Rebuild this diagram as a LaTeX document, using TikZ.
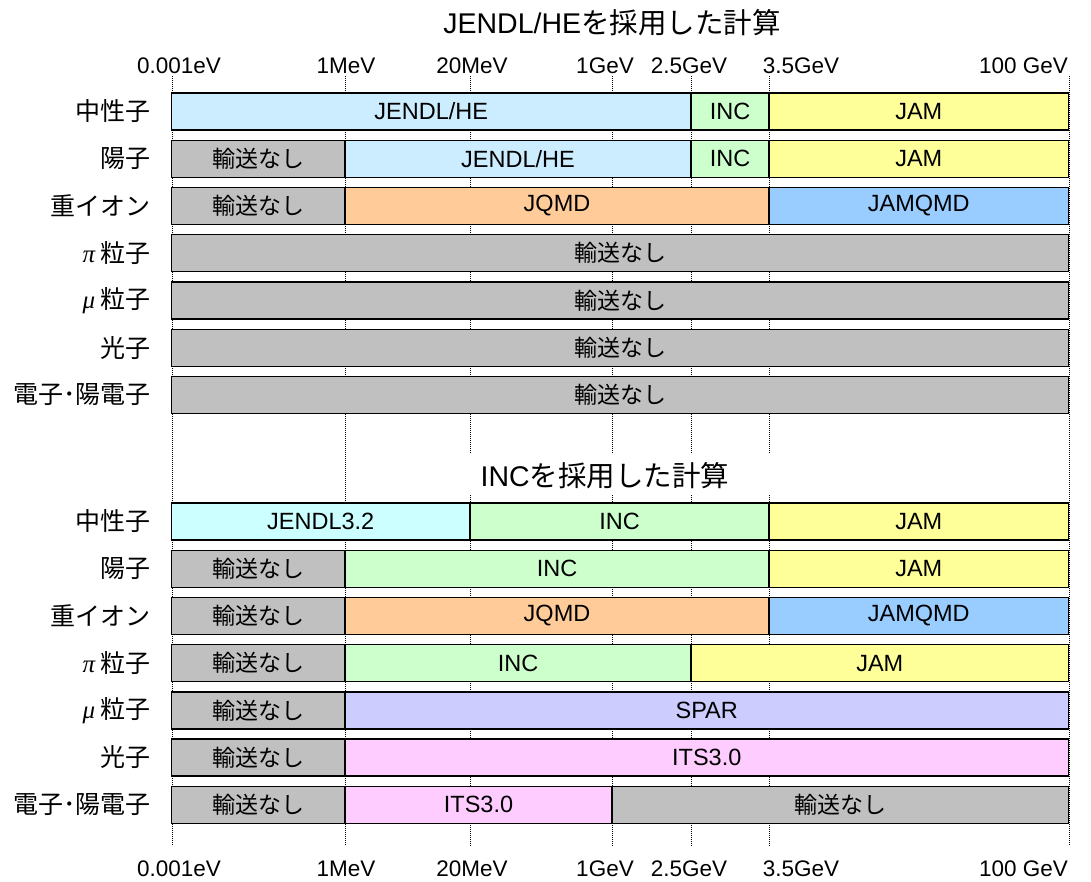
\documentclass[tikz,border=0pt]{standalone}
\usepackage{fontspec}
\setmainfont{Liberation Sans}
\newfontfamily\jp{Noto Sans CJK JP}
\newfontfamily\grk{Liberation Serif}
\definecolor{cjhe}{HTML}{CCECFF}
\definecolor{cinc}{HTML}{CCFFCC}
\definecolor{cjam}{HTML}{FFFF99}
\definecolor{cgray}{HTML}{C0C0C0}
\definecolor{cjqmd}{HTML}{FFCC99}
\definecolor{cjamqmd}{HTML}{99CCFF}
\definecolor{cjtt}{HTML}{CCFFFF}
\definecolor{cspar}{HTML}{CCCCFF}
\definecolor{cits}{HTML}{FFCCFF}
\newcommand\J[1]{{\jp\fontsize{23}{26}\selectfont #1}}
\newcommand\NT{\J{輸送なし}}
\newcommand\seg[6]{\node[segbox, fill=#5, minimum width={((#3)-(#2))*1pt}] (#1) at ({((#2)+(#3))/2}, #4) {#6};}
\newcommand\rowlab[3]{\node[rowlab] (#1) at (151, #2) {#3};}
\begin{document}
\begin{tikzpicture}[x=1pt, y=-1pt,
  segbox/.style={draw=black, line width=1.4pt, minimum height=37pt, inner sep=0pt,
    font=\fontsize{23.5}{26}\selectfont},
  rowlab/.style={anchor=east, inner sep=0pt, font=\jp\fontsize{25}{28}\selectfont},
  axlab/.style={anchor=base, inner sep=0pt, font=\fontsize{22.5}{26}\selectfont},
  ttl/.style={anchor=base, inner sep=0pt, font=\fontsize{28.5}{32}\selectfont},
  grid/.style={line width=0.8pt, dash pattern=on 1pt off 1pt}]
\useasboundingbox (0,0) rectangle (1091,882);
% dotted grid lines
\foreach \x in {172,345,1069} \draw[grid] (\x,76) -- (\x,846);
\foreach \x in {470,612,691,769} {\draw[grid] (\x,76) -- (\x,453); \draw[grid] (\x,495) -- (\x,846);}
% titles
\node[ttl] (t1) at (612,34) {JENDL/HE{\jp を採用した計算}};
\node[ttl] (t2) at (605,486) {INC{\jp を採用した計算}};
% axis labels
\foreach \n/\cx/\lab in {a/179/0.001eV, b/346/1MeV, c/472/20MeV, d/605/1GeV, e/689/2.5GeV, f/801/3.5GeV} {
  \node[axlab] (top\n) at (\cx,74) {\lab};
  \node[axlab] (bot\n) at (\cx,876) {\lab};
}
\node[axlab, anchor=base east] (topg) at (1068,74) {100 GeV};
\node[axlab, anchor=base east] (botg) at (1068,876) {100 GeV};
% row labels
\def\Y{111.5}\def\Yb{158.75}\def\Yc{206}\def\Yd{253.25}\def\Ye{300.5}\def\Yf{347.75}\def\Yg{395}
\def\Z{521.5}\def\Zb{568.7}\def\Zc{615.9}\def\Zd{663.1}\def\Ze{710.3}\def\Zf{757.5}\def\Zg{804.7}
\rowlab{la1}{\Y}{中性子}
\rowlab{la2}{\Yb}{陽子}
\rowlab{la3}{\Yc}{重イオン}
\rowlab{la4}{\Yd}{{\grk\itshape π} 粒子}
\rowlab{la5}{\Ye}{{\grk\itshape μ} 粒子}
\rowlab{la6}{\Yf}{光子}
\rowlab{la7}{\Yg}{電子･陽電子}
\rowlab{lb1}{\Z}{中性子}
\rowlab{lb2}{\Zb}{陽子}
\rowlab{lb3}{\Zc}{重イオン}
\rowlab{lb4}{\Zd}{{\grk\itshape π} 粒子}
\rowlab{lb5}{\Ze}{{\grk\itshape μ} 粒子}
\rowlab{lb6}{\Zf}{光子}
\rowlab{lb7}{\Zg}{電子･陽電子}
% top section bars
\seg{a1a}{171.5}{691}{\Y}{cjhe}{JENDL/HE}
\seg{a1b}{691}{769}{\Y}{cinc}{INC}
\seg{a1c}{769}{1068.5}{\Y}{cjam}{JAM}
\seg{a2a}{171.5}{345}{\Yb}{cgray}{\NT}
\seg{a2b}{345}{691}{\Yb}{cjhe}{JENDL/HE}
\seg{a2c}{691}{769}{\Yb}{cinc}{INC}
\seg{a2d}{769}{1068.5}{\Yb}{cjam}{JAM}
\seg{a3a}{171.5}{345}{\Yc}{cgray}{\NT}
\seg{a3b}{345}{769}{\Yc}{cjqmd}{JQMD}
\seg{a3c}{769}{1068.5}{\Yc}{cjamqmd}{JAMQMD}
\seg{a4a}{171.5}{1068.5}{\Yd}{cgray}{\NT}
\seg{a5a}{171.5}{1068.5}{\Ye}{cgray}{\NT}
\seg{a6a}{171.5}{1068.5}{\Yf}{cgray}{\NT}
\seg{a7a}{171.5}{1068.5}{\Yg}{cgray}{\NT}
% bottom section bars
\seg{b1a}{171.5}{470}{\Z}{cjtt}{JENDL3.2}
\seg{b1b}{470}{769}{\Z}{cinc}{INC}
\seg{b1c}{769}{1068.5}{\Z}{cjam}{JAM}
\seg{b2a}{171.5}{345}{\Zb}{cgray}{\NT}
\seg{b2b}{345}{769}{\Zb}{cinc}{INC}
\seg{b2c}{769}{1068.5}{\Zb}{cjam}{JAM}
\seg{b3a}{171.5}{345}{\Zc}{cgray}{\NT}
\seg{b3b}{345}{769}{\Zc}{cjqmd}{JQMD}
\seg{b3c}{769}{1068.5}{\Zc}{cjamqmd}{JAMQMD}
\seg{b4a}{171.5}{345}{\Zd}{cgray}{\NT}
\seg{b4b}{345}{691}{\Zd}{cinc}{INC}
\seg{b4c}{691}{1068.5}{\Zd}{cjam}{JAM}
\seg{b5a}{171.5}{345}{\Ze}{cgray}{\NT}
\seg{b5b}{345}{1068.5}{\Ze}{cspar}{SPAR}
\seg{b6a}{171.5}{345}{\Zf}{cgray}{\NT}
\seg{b6b}{345}{1068.5}{\Zf}{cits}{ITS3.0}
\seg{b7a}{171.5}{345}{\Zg}{cgray}{\NT}
\seg{b7b}{345}{612}{\Zg}{cits}{ITS3.0}
\seg{b7c}{612}{1068.5}{\Zg}{cgray}{\NT}
\end{tikzpicture}
\end{document}
